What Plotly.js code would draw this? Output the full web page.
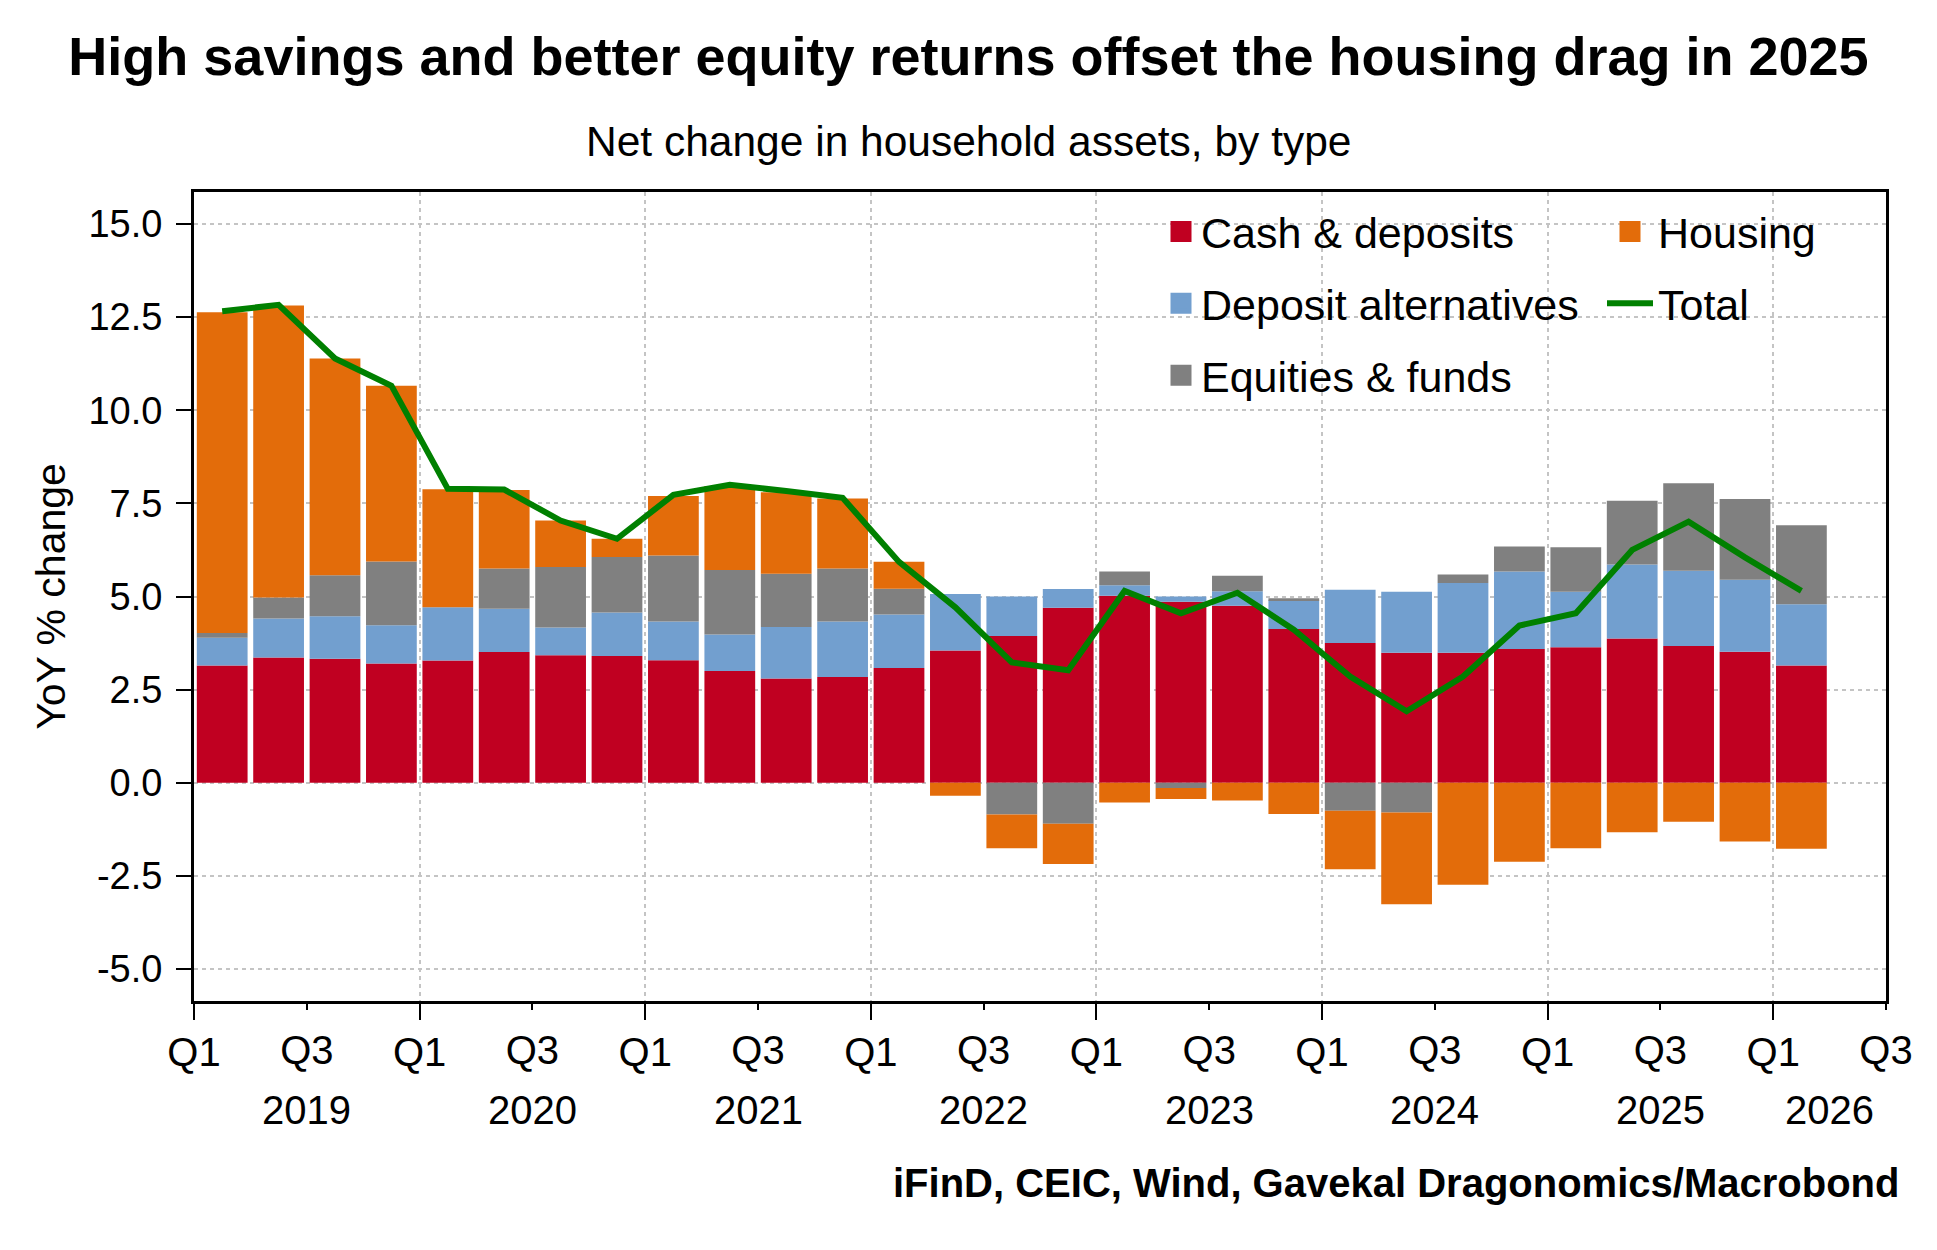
<!DOCTYPE html>
<html>
<head>
<meta charset="utf-8">
<script src="https://cdn.plot.ly/plotly-3.0.1.min.js"></script>
<style>html,body{margin:0;padding:0;background:#ffffff;}</style>
</head>
<body>
<div id="chart" style="width:1937px;height:1250px;"></div>
<script>
// ---- Data ----
const quarters = ['2019Q1','2019Q2','2019Q3','2019Q4','2020Q1','2020Q2','2020Q3','2020Q4',
  '2021Q1','2021Q2','2021Q3','2021Q4','2022Q1','2022Q2','2022Q3','2022Q4',
  '2023Q1','2023Q2','2023Q3','2023Q4','2024Q1','2024Q2','2024Q3','2024Q4',
  '2025Q1','2025Q2','2025Q3','2025Q4','2026Q1'];

const cashDeposits = [3.15,3.36,3.33,3.20,3.28,3.51,3.42,3.40,3.29,3.00,2.80,2.84,3.08,3.55,3.94,4.70,
  5.02,4.86,4.75,4.13,3.75,3.49,3.49,3.59,3.64,3.87,3.67,3.52,3.15];
const depositAlternatives = [0.74,1.05,1.14,1.03,1.43,1.16,0.75,1.17,1.04,0.98,1.38,1.49,1.44,1.52,1.06,0.50,
  0.28,0.14,0.39,0.77,1.43,1.64,1.87,2.08,1.49,1.99,2.02,1.93,1.64];
const equitiesFunds = [0.13,0.56,1.10,1.71,0.00,1.08,1.62,1.49,1.77,1.73,1.43,1.42,0.69,0.00,-0.85,-1.10,
  0.37,-0.14,0.42,0.05,-0.75,-0.80,0.23,0.67,1.19,1.71,2.35,2.17,2.12];
const housing = [8.61,7.84,5.82,4.72,3.17,2.11,1.25,0.49,1.60,2.26,2.19,1.88,0.72,-0.35,-0.91,-1.08,
  -0.53,-0.30,-0.48,-0.84,-1.57,-2.46,-2.74,-2.12,-1.76,-1.33,-1.05,-1.58,-1.77];
const total = [12.66,12.83,11.39,10.66,7.89,7.87,7.04,6.55,7.73,8.00,7.83,7.65,5.93,4.71,3.23,3.02,
  5.15,4.55,5.10,4.11,2.85,1.92,2.85,4.22,4.55,6.25,7.01,6.05,5.15];

// Tick labels
const q1TickVals = [0,4,8,12,16,20,24,28];
const q1TickText = ['Q1','Q1','Q1','Q1','Q1','Q1','Q1','Q1'];
const q3TickVals = [2,6,10,14,18,22,26,30];
const q3TickText = ['Q3','Q3','Q3','Q3','Q3','Q3','Q3','Q3'];
const yearLabels = ['2019','2020','2021','2022','2023','2024','2025','2026'];
const yearLabelPos = [2,6,10,14,18,22,26,29];
const yTickVals = [-5,-2.5,0,2.5,5,7.5,10,12.5,15];
const yTickText = ['-5.0','-2.5','0.0','2.5','5.0','7.5','10.0','12.5','15.0'];

// ---- Styles ----
const FONT = 'Liberation Sans, Arial, sans-serif';
const COL = {cash:'#C00021', dep:'#729FCF', eq:'#808080', house:'#E36C0A', total:'#008000'};
const GRID = '#c4c4c4';

// quarter index -> bar centre on a numeric quarter axis
const xPos = quarters.map((q, i) => i + 0.5);

function barTrace(name, vals, color) {
  return {type:'bar', name:name, x:xPos, y:vals, marker:{color:color, line:{width:0}},
          showlegend:false, hovertemplate:name + ': %{y:.2f}<extra></extra>'};
}
function legendProxy(name, color, legendId, xaxisId) {
  return {type:'scatter', mode:'markers', name:name, x:[null], y:[null],
          xaxis: xaxisId || 'x',
          marker:{symbol:'square', size:16, color:color, line:{color:color, width:5}},
          legend:legendId, legendgroup:name, showlegend:true, hoverinfo:'skip'};
}

const data = [
  barTrace('Cash & deposits', cashDeposits, COL.cash),
  barTrace('Deposit alternatives', depositAlternatives, COL.dep),
  barTrace('Equities & funds', equitiesFunds, COL.eq),
  barTrace('Housing', housing, COL.house),
  legendProxy('Housing', COL.house, 'legend2', 'x2'),
  {type:'scatter', mode:'lines', name:'Total', x:xPos, y:total,
   line:{color:COL.total, width:6}, legend:'legend2', legendgroup:'Total',
   hovertemplate:'Total: %{y:.2f}<extra></extra>'},
  legendProxy('Cash & deposits', COL.cash, 'legend'),
  legendProxy('Deposit alternatives', COL.dep, 'legend'),
  legendProxy('Equities & funds', COL.eq, 'legend')
];

const plotL = 194, plotR = 51, plotT = 192, plotB = 249;
const W = 1937, H = 1250;
const pw = W - plotL - plotR, ph = H - plotT - plotB;
const py = (Y) => (H - plotB - Y) / ph;   // page y px -> paper y
const px = (X) => (X - plotL) / pw;       // page x px -> paper x

const annotations = yearLabels.map((t, i) => ({
  x: yearLabelPos[i], xref:'x', y: py(1110), yref:'paper',
  text: t, showarrow:false, xanchor:'center', yanchor:'middle',
  font:{family:FONT, size:40, color:'#000'}
}));
annotations.push({
  x: px(968.5), xref:'paper', y: py(141.5), yref:'paper',
  text:'Net change in household assets, by type', showarrow:false,
  xanchor:'center', yanchor:'middle', font:{family:FONT, size:42.5, color:'#000'}
});
annotations.push({
  x: px(1901), xref:'paper', y: py(1183), yref:'paper',
  text:'iFinD, CEIC, Wind, Gavekal Dragonomics/Macrobond', showarrow:false,
  xanchor:'right', yanchor:'middle', font:{family:FONT, size:40, color:'#000', weight:700}
});

const layout = {
  width:W, height:H,
  margin:{l:plotL, r:plotR, t:plotT, b:plotB, pad:0},
  paper_bgcolor:'#ffffff', plot_bgcolor:'#ffffff',
  font:{family:FONT, size:40, color:'#000'},
  barmode:'relative', bargap:0.1,
  showlegend:true,
  title:{text:'High savings and better equity returns offset the housing drag in 2025',
         font:{family:FONT, size:54, weight:700, color:'#000'},
         x:0.5, xref:'container', xanchor:'center',
         y:1 - 56.5 / H, yref:'container', yanchor:'middle'},
  xaxis:{range:[0,30], tickmode:'array', tickvals:q1TickVals, ticktext:q1TickText,
         ticks:'outside', ticklen:16, tickwidth:2, tickcolor:'#000',
         showline:true, mirror:true, linewidth:3, linecolor:'#000',
         showgrid:true, gridcolor:GRID, gridwidth:1.5, griddash:'4px,4px',
         zeroline:false, tickfont:{family:FONT, size:40, color:'#000'},
         ticklabelstandoff:-2, fixedrange:true},
  xaxis2:{overlaying:'x', anchor:'y', side:'bottom', range:[0,30],
          tickmode:'array', tickvals:q3TickVals, ticktext:q3TickText,
          ticks:'outside', ticklen:8, tickwidth:2, tickcolor:'#000',
          showline:false, showgrid:false, zeroline:false,
          tickfont:{family:FONT, size:40, color:'#000'},
          ticklabelstandoff:6, fixedrange:true},
  yaxis:{range:[-5.86,15.86], tickmode:'array', tickvals:yTickVals, ticktext:yTickText,
         ticks:'outside', ticklen:15, tickwidth:2, tickcolor:'#000',
         showline:true, mirror:true, linewidth:3, linecolor:'#000',
         showgrid:true, gridcolor:GRID, gridwidth:1.5, griddash:'4px,4px',
         zeroline:false, tickfont:{family:FONT, size:38, color:'#000'},
         ticklabelstandoff:6,
         title:{text:'YoY % change', font:{family:FONT, size:41, color:'#000'}, standoff:11},
         fixedrange:true},
  legend:{x:px(1161), xanchor:'left', y:py(197), yanchor:'top', orientation:'v',
          traceorder:'grouped', tracegroupgap:13, itemwidth:30,
          font:{family:FONT, size:43, color:'#000'}, bgcolor:'rgba(0,0,0,0)', borderwidth:0},
  legend2:{x:px(1602), xanchor:'left', y:py(197), yanchor:'top', orientation:'v',
          traceorder:'grouped', tracegroupgap:13, itemwidth:46,
          font:{family:FONT, size:43, color:'#000'}, bgcolor:'rgba(0,0,0,0)', borderwidth:0},
  annotations:annotations
};

Plotly.newPlot('chart', data, layout, {displayModeBar:false, responsive:false});
</script>
</body>
</html>
